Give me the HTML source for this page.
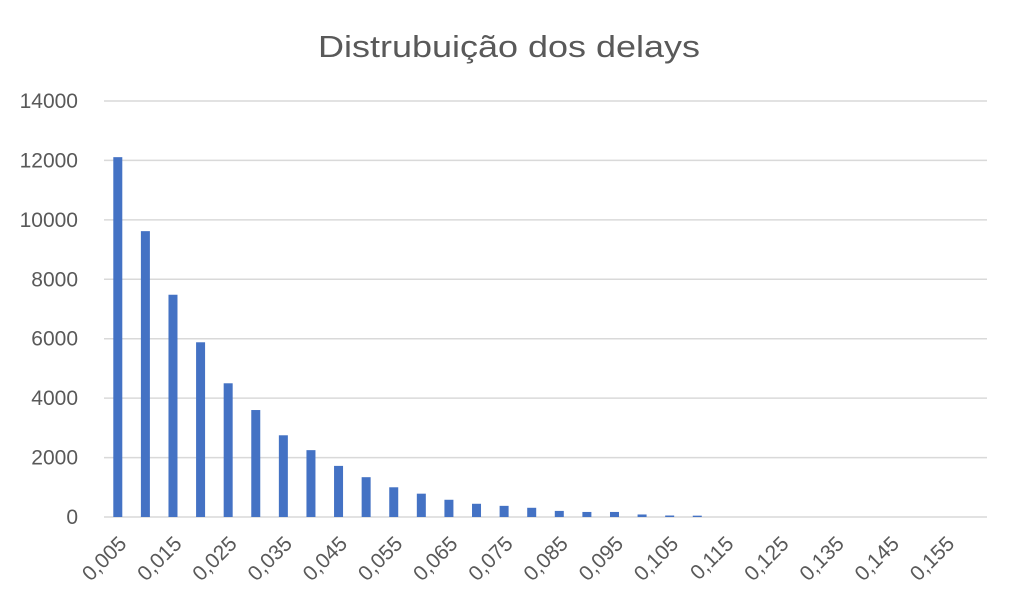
<!DOCTYPE html>
<html><head><meta charset="utf-8"><style>
html,body{margin:0;padding:0;background:#fff;}
svg{display:block;font-family:"Liberation Sans",sans-serif;}
</style></head><body>
<svg id="chart" width="1016" height="610">
<text x="509" y="57" text-anchor="middle" font-size="31" fill="#595959" textLength="382" lengthAdjust="spacingAndGlyphs">Distrubuição dos delays</text>
<g id="grid"></g>
<g id="yticks"></g>
<g id="bars"></g>
<g id="xticks"></g>
</svg>
<script>
const categories = ["0,005","0,010","0,015","0,020","0,025","0,030","0,035","0,040","0,045","0,050","0,055","0,060","0,065","0,070","0,075","0,080","0,085","0,090","0,095","0,100","0,105","0,110","0,115","0,120","0,125","0,130","0,135","0,140","0,145","0,150","0,155","0,160"];
const counts = [12110,9620,7480,5880,4500,3600,2750,2250,1720,1340,1000,785,580,445,375,310,205,170,170,85,50,45,0,0,0,0,0,0,0,0,0,0];
const yTicks = [0,2000,4000,6000,8000,10000,12000,14000];
const xLabelEvery = 2;

const NS = "http://www.w3.org/2000/svg";
const L = 104, R = 987, T = 101, B = 517, YMAX = 14000;
const band = (R - L) / categories.length;
const xc = i => L + band * (i + 0.5);
const y = v => B - (v / YMAX) * (B - T);
function mk(tag, attrs, parent) {
  const e = document.createElementNS(NS, tag);
  for (const k in attrs) e.setAttribute(k, attrs[k]);
  parent.appendChild(e);
  return e;
}
const grid = document.getElementById('grid');
const yt = document.getElementById('yticks');
yTicks.forEach(v => {
  const ln = mk('line', {x1: L, x2: R, y1: y(v), y2: y(v), stroke: '#d9d9d9', 'stroke-width': 1.5}, grid);
  
  
  const t = mk('text', {x: 78, y: y(v) + 7, 'text-anchor': 'end', 'font-size': 21, fill: '#595959'}, yt);
  t.textContent = String(v);
  
  
});
const bars = document.getElementById('bars');
const bw = 9;
counts.forEach((v, i) => {
  if (v <= 0) return;
  const r = mk('rect', {x: xc(i) - bw / 2, y: y(v), width: bw, height: B - y(v), fill: '#4472c4'}, bars);
  
  
});
const xt = document.getElementById('xticks');
categories.forEach((c, i) => {
  if (i % xLabelEvery !== 0) return;
  const ax = xc(i) + 10, ay = 545;
  const t = mk('text', {x: ax, y: ay, 'text-anchor': 'end', 'font-size': 21, fill: '#595959', transform: `rotate(-45 ${ax} ${ay})`}, xt);
  t.textContent = c;
  
  
});
</script>
</body></html>
